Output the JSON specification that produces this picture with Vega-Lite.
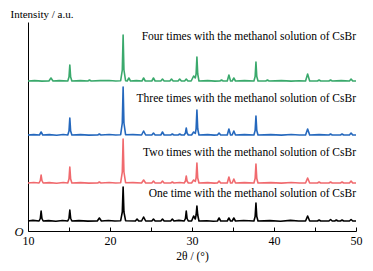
{
  "$schema": "https://vega.github.io/schema/vega-lite/v6.json",
  "width": 328,
  "height": 209,
  "autosize": {"type": "none"},
  "padding": {"left": 28, "top": 22, "right": 17, "bottom": 40},
  "background": "white",
  "config": {
    "view": {"stroke": null},
    "font": "Liberation Serif",
    "axis": {"grid": false, "domainColor": "#000", "domainWidth": 1, "tickColor": "#000", "labelColor": "#000", "titleColor": "#000", "labelFont": "Liberation Serif", "titleFont": "Liberation Serif", "labelFontSize": 12, "titleFontSize": 11.5, "titleFontWeight": "normal"}
  },
  "datasets": {
    "xrd": [
      {"s":"One","t":10.0,"i":10},{"s":"One","t":10.6,"i":10.6},{"s":"One","t":11.35,"i":10},{"s":"One","t":11.5,"i":12.5},{"s":"One","t":11.6,"i":20},{"s":"One","t":11.7,"i":12.5},{"s":"One","t":11.85,"i":10},
      {"s":"One","t":12.5,"i":10.4},{"s":"One","t":13.4,"i":9.8},{"s":"One","t":14.2,"i":10.5},{"s":"One","t":14.85,"i":10},{"s":"One","t":15.0,"i":12.8},{"s":"One","t":15.1,"i":21},{"s":"One","t":15.2,"i":12.8},{"s":"One","t":15.35,"i":10},
      {"s":"One","t":16.2,"i":10.4},{"s":"One","t":17.3,"i":9.9},{"s":"One","t":18.45,"i":10},{"s":"One","t":18.7,"i":13},{"s":"One","t":18.95,"i":10},{"s":"One","t":19.8,"i":10.5},{"s":"One","t":20.6,"i":10},
      {"s":"One","t":21.3,"i":10.3},{"s":"One","t":21.5,"i":19},{"s":"One","t":21.6,"i":44},{"s":"One","t":21.7,"i":19},{"s":"One","t":21.9,"i":10.3},
      {"s":"One","t":23.1,"i":10},{"s":"One","t":23.3,"i":12},{"s":"One","t":23.5,"i":10},{"s":"One","t":23.85,"i":10},{"s":"One","t":24.1,"i":14},{"s":"One","t":24.35,"i":10},
      {"s":"One","t":25.1,"i":10},{"s":"One","t":25.3,"i":12},{"s":"One","t":25.5,"i":10},{"s":"One","t":26.2,"i":10},{"s":"One","t":26.4,"i":12},{"s":"One","t":26.6,"i":10},{"s":"One","t":27.4,"i":10},{"s":"One","t":27.6,"i":12},{"s":"One","t":27.8,"i":10},
      {"s":"One","t":28.4,"i":10.6},{"s":"One","t":29.05,"i":10},{"s":"One","t":29.2,"i":12.5},{"s":"One","t":29.3,"i":20},{"s":"One","t":29.4,"i":12.5},{"s":"One","t":29.55,"i":10},
      {"s":"One","t":29.95,"i":10},{"s":"One","t":30.2,"i":15},{"s":"One","t":30.4,"i":12},{"s":"One","t":30.5,"i":16},{"s":"One","t":30.6,"i":25},{"s":"One","t":30.7,"i":16},{"s":"One","t":30.85,"i":10},
      {"s":"One","t":31.8,"i":10.3},{"s":"One","t":32.6,"i":9.8},{"s":"One","t":33.1,"i":10},{"s":"One","t":33.3,"i":13},{"s":"One","t":33.5,"i":10},{"s":"One","t":34.3,"i":10},{"s":"One","t":34.5,"i":13},{"s":"One","t":34.7,"i":10},{"s":"One","t":34.9,"i":10},{"s":"One","t":35.1,"i":13},{"s":"One","t":35.3,"i":10},
      {"s":"One","t":36.3,"i":10.5},{"s":"One","t":37.55,"i":10},{"s":"One","t":37.7,"i":14.5},{"s":"One","t":37.8,"i":28},{"s":"One","t":37.9,"i":14.5},{"s":"One","t":38.05,"i":10},
      {"s":"One","t":39.5,"i":10.4},{"s":"One","t":40.8,"i":9.8},{"s":"One","t":42.0,"i":10.6},{"s":"One","t":43.0,"i":10},{"s":"One","t":43.85,"i":10},{"s":"One","t":44.1,"i":15},{"s":"One","t":44.35,"i":10},
      {"s":"One","t":45.3,"i":10},{"s":"One","t":45.5,"i":11},{"s":"One","t":45.7,"i":10},{"s":"One","t":46.7,"i":10},{"s":"One","t":46.9,"i":11.5},{"s":"One","t":47.1,"i":10},{"s":"One","t":47.4,"i":10},{"s":"One","t":47.6,"i":11},{"s":"One","t":47.8,"i":10},
      {"s":"One","t":48.1,"i":10},{"s":"One","t":48.3,"i":11},{"s":"One","t":48.5,"i":10},{"s":"One","t":49.2,"i":10},{"s":"One","t":49.4,"i":11.5},{"s":"One","t":49.6,"i":10},{"s":"One","t":50.0,"i":10},

      {"s":"Two","t":10.0,"i":48},{"s":"Two","t":10.7,"i":48.5},{"s":"Two","t":11.35,"i":48},{"s":"Two","t":11.5,"i":50.5},{"s":"Two","t":11.6,"i":56},{"s":"Two","t":11.7,"i":50.5},{"s":"Two","t":11.85,"i":48},
      {"s":"Two","t":12.6,"i":48.4},{"s":"Two","t":13.5,"i":47.8},{"s":"Two","t":14.3,"i":48.5},{"s":"Two","t":14.85,"i":48},{"s":"Two","t":15.0,"i":52},{"s":"Two","t":15.1,"i":64},{"s":"Two","t":15.2,"i":52},{"s":"Two","t":15.35,"i":48},
      {"s":"Two","t":16.4,"i":48.4},{"s":"Two","t":17.4,"i":47.9},{"s":"Two","t":18.5,"i":48},{"s":"Two","t":18.7,"i":49},{"s":"Two","t":18.9,"i":48},{"s":"Two","t":19.9,"i":48.5},{"s":"Two","t":20.7,"i":48},
      {"s":"Two","t":21.3,"i":48.3},{"s":"Two","t":21.5,"i":59},{"s":"Two","t":21.6,"i":92},{"s":"Two","t":21.7,"i":59},{"s":"Two","t":21.9,"i":48.3},
      {"s":"Two","t":22.8,"i":48.4},{"s":"Two","t":23.85,"i":48},{"s":"Two","t":24.1,"i":51},{"s":"Two","t":24.35,"i":48},
      {"s":"Two","t":25.1,"i":48},{"s":"Two","t":25.3,"i":50},{"s":"Two","t":25.5,"i":48},{"s":"Two","t":26.2,"i":48},{"s":"Two","t":26.4,"i":50},{"s":"Two","t":26.6,"i":48},{"s":"Two","t":27.4,"i":48},{"s":"Two","t":27.6,"i":49},{"s":"Two","t":27.8,"i":48},
      {"s":"Two","t":28.5,"i":48.5},{"s":"Two","t":29.05,"i":48},{"s":"Two","t":29.2,"i":50},{"s":"Two","t":29.3,"i":55},{"s":"Two","t":29.4,"i":50},{"s":"Two","t":29.55,"i":48},
      {"s":"Two","t":29.95,"i":48},{"s":"Two","t":30.2,"i":51},{"s":"Two","t":30.4,"i":49.5},{"s":"Two","t":30.5,"i":53},{"s":"Two","t":30.6,"i":68},{"s":"Two","t":30.7,"i":53},{"s":"Two","t":30.85,"i":48},
      {"s":"Two","t":31.9,"i":48.4},{"s":"Two","t":32.7,"i":47.9},{"s":"Two","t":33.1,"i":48},{"s":"Two","t":33.3,"i":50},{"s":"Two","t":33.5,"i":48},{"s":"Two","t":34.3,"i":48},{"s":"Two","t":34.5,"i":54},{"s":"Two","t":34.7,"i":48},{"s":"Two","t":34.9,"i":48},{"s":"Two","t":35.1,"i":52},{"s":"Two","t":35.3,"i":48},
      {"s":"Two","t":36.4,"i":48.4},{"s":"Two","t":37.55,"i":48},{"s":"Two","t":37.7,"i":52.5},{"s":"Two","t":37.8,"i":67},{"s":"Two","t":37.9,"i":52.5},{"s":"Two","t":38.05,"i":48},
      {"s":"Two","t":39.6,"i":48.4},{"s":"Two","t":40.9,"i":47.9},{"s":"Two","t":42.1,"i":48.5},{"s":"Two","t":43.1,"i":48},{"s":"Two","t":43.85,"i":48},{"s":"Two","t":44.1,"i":53},{"s":"Two","t":44.35,"i":48},
      {"s":"Two","t":45.3,"i":48},{"s":"Two","t":45.5,"i":49},{"s":"Two","t":45.7,"i":48},{"s":"Two","t":46.7,"i":48},{"s":"Two","t":46.9,"i":49},{"s":"Two","t":47.1,"i":48},{"s":"Two","t":48.1,"i":48},{"s":"Two","t":48.3,"i":49},{"s":"Two","t":48.5,"i":48},
      {"s":"Two","t":49.2,"i":48},{"s":"Two","t":49.4,"i":50},{"s":"Two","t":49.6,"i":48},{"s":"Two","t":50.0,"i":48},

      {"s":"Three","t":10.0,"i":96},{"s":"Three","t":10.7,"i":96.4},{"s":"Three","t":11.4,"i":96},{"s":"Three","t":11.6,"i":99},{"s":"Three","t":11.8,"i":96},
      {"s":"Three","t":12.6,"i":96.4},{"s":"Three","t":13.5,"i":95.8},{"s":"Three","t":14.3,"i":96.5},{"s":"Three","t":14.85,"i":96},{"s":"Three","t":15.0,"i":100},{"s":"Three","t":15.1,"i":113},{"s":"Three","t":15.2,"i":100},{"s":"Three","t":15.35,"i":96},
      {"s":"Three","t":16.4,"i":96.4},{"s":"Three","t":17.4,"i":95.9},{"s":"Three","t":18.5,"i":96},{"s":"Three","t":18.7,"i":97},{"s":"Three","t":18.9,"i":96},{"s":"Three","t":19.9,"i":96.5},{"s":"Three","t":20.7,"i":96},
      {"s":"Three","t":21.3,"i":96.3},{"s":"Three","t":21.5,"i":108},{"s":"Three","t":21.6,"i":144},{"s":"Three","t":21.7,"i":108},{"s":"Three","t":21.9,"i":96.3},
      {"s":"Three","t":22.8,"i":96.4},{"s":"Three","t":23.85,"i":96},{"s":"Three","t":24.1,"i":100},{"s":"Three","t":24.35,"i":96},
      {"s":"Three","t":25.1,"i":96},{"s":"Three","t":25.3,"i":98},{"s":"Three","t":25.5,"i":96},{"s":"Three","t":26.2,"i":96},{"s":"Three","t":26.4,"i":99},{"s":"Three","t":26.6,"i":96},{"s":"Three","t":27.4,"i":96},{"s":"Three","t":27.6,"i":97},{"s":"Three","t":27.8,"i":96},
      {"s":"Three","t":28.3,"i":96},{"s":"Three","t":28.5,"i":97},{"s":"Three","t":28.7,"i":96},{"s":"Three","t":29.05,"i":96},{"s":"Three","t":29.2,"i":98},{"s":"Three","t":29.3,"i":103},{"s":"Three","t":29.4,"i":98},{"s":"Three","t":29.55,"i":96},
      {"s":"Three","t":29.95,"i":96},{"s":"Three","t":30.2,"i":99},{"s":"Three","t":30.4,"i":97.5},{"s":"Three","t":30.5,"i":102},{"s":"Three","t":30.6,"i":121},{"s":"Three","t":30.7,"i":102},{"s":"Three","t":30.85,"i":96},
      {"s":"Three","t":31.9,"i":96.4},{"s":"Three","t":32.7,"i":95.9},{"s":"Three","t":33.1,"i":96},{"s":"Three","t":33.3,"i":98},{"s":"Three","t":33.5,"i":96},{"s":"Three","t":34.3,"i":96},{"s":"Three","t":34.5,"i":102},{"s":"Three","t":34.7,"i":96},{"s":"Three","t":34.9,"i":96},{"s":"Three","t":35.1,"i":100},{"s":"Three","t":35.3,"i":96},
      {"s":"Three","t":36.4,"i":96.4},{"s":"Three","t":37.55,"i":96},{"s":"Three","t":37.7,"i":100.5},{"s":"Three","t":37.8,"i":115},{"s":"Three","t":37.9,"i":100.5},{"s":"Three","t":38.05,"i":96},
      {"s":"Three","t":39.6,"i":96.4},{"s":"Three","t":40.9,"i":95.9},{"s":"Three","t":42.1,"i":96.5},{"s":"Three","t":43.1,"i":96},{"s":"Three","t":43.85,"i":96},{"s":"Three","t":44.1,"i":102},{"s":"Three","t":44.35,"i":96},
      {"s":"Three","t":45.5,"i":96.4},{"s":"Three","t":46.7,"i":96},{"s":"Three","t":46.9,"i":97},{"s":"Three","t":47.1,"i":96},{"s":"Three","t":48.1,"i":96},{"s":"Three","t":48.3,"i":97},{"s":"Three","t":48.5,"i":96},
      {"s":"Three","t":49.2,"i":96},{"s":"Three","t":49.4,"i":98},{"s":"Three","t":49.6,"i":96},{"s":"Three","t":50.0,"i":96},

      {"s":"Four","t":10.0,"i":150},{"s":"Four","t":10.8,"i":150.4},{"s":"Four","t":11.7,"i":149.9},{"s":"Four","t":12.55,"i":150},{"s":"Four","t":12.8,"i":153},{"s":"Four","t":13.05,"i":150},
      {"s":"Four","t":13.8,"i":150.4},{"s":"Four","t":14.85,"i":150},{"s":"Four","t":15.0,"i":154},{"s":"Four","t":15.1,"i":166},{"s":"Four","t":15.2,"i":154},{"s":"Four","t":15.35,"i":150},
      {"s":"Four","t":16.4,"i":150.4},{"s":"Four","t":17.3,"i":150},{"s":"Four","t":17.5,"i":151},{"s":"Four","t":17.7,"i":150},{"s":"Four","t":18.8,"i":150.4},{"s":"Four","t":19.9,"i":150.5},{"s":"Four","t":20.7,"i":150},
      {"s":"Four","t":21.3,"i":150.3},{"s":"Four","t":21.5,"i":161},{"s":"Four","t":21.6,"i":196},{"s":"Four","t":21.7,"i":161},{"s":"Four","t":21.9,"i":150.3},
      {"s":"Four","t":22.1,"i":150},{"s":"Four","t":22.3,"i":153},{"s":"Four","t":22.5,"i":150},{"s":"Four","t":23.2,"i":150.4},{"s":"Four","t":23.9,"i":150},{"s":"Four","t":24.1,"i":153},{"s":"Four","t":24.3,"i":150},
      {"s":"Four","t":25.1,"i":150},{"s":"Four","t":25.3,"i":153},{"s":"Four","t":25.5,"i":150},{"s":"Four","t":26.2,"i":150},{"s":"Four","t":26.4,"i":152},{"s":"Four","t":26.6,"i":150},{"s":"Four","t":27.3,"i":150},{"s":"Four","t":27.5,"i":152},{"s":"Four","t":27.7,"i":150},
      {"s":"Four","t":28.3,"i":150},{"s":"Four","t":28.5,"i":152},{"s":"Four","t":28.7,"i":150},{"s":"Four","t":29.1,"i":150},{"s":"Four","t":29.3,"i":152},{"s":"Four","t":29.5,"i":150},
      {"s":"Four","t":29.9,"i":150},{"s":"Four","t":30.2,"i":155},{"s":"Four","t":30.4,"i":153},{"s":"Four","t":30.5,"i":157},{"s":"Four","t":30.6,"i":174},{"s":"Four","t":30.7,"i":157},{"s":"Four","t":30.85,"i":150},
      {"s":"Four","t":31.9,"i":150.4},{"s":"Four","t":32.8,"i":149.9},{"s":"Four","t":33.4,"i":150},{"s":"Four","t":33.6,"i":151},{"s":"Four","t":33.8,"i":150},{"s":"Four","t":34.3,"i":150},{"s":"Four","t":34.5,"i":156},{"s":"Four","t":34.7,"i":150},{"s":"Four","t":34.9,"i":150},{"s":"Four","t":35.1,"i":153},{"s":"Four","t":35.3,"i":150},
      {"s":"Four","t":36.4,"i":150.4},{"s":"Four","t":37.55,"i":150},{"s":"Four","t":37.7,"i":154.5},{"s":"Four","t":37.8,"i":169},{"s":"Four","t":37.9,"i":154.5},{"s":"Four","t":38.05,"i":150},
      {"s":"Four","t":39.0,"i":150},{"s":"Four","t":39.2,"i":151},{"s":"Four","t":39.4,"i":150},{"s":"Four","t":40.9,"i":150.4},{"s":"Four","t":42.1,"i":149.9},{"s":"Four","t":43.1,"i":150.3},{"s":"Four","t":43.85,"i":150},{"s":"Four","t":44.1,"i":157},{"s":"Four","t":44.35,"i":150},
      {"s":"Four","t":45.3,"i":150},{"s":"Four","t":45.5,"i":151},{"s":"Four","t":45.7,"i":150},{"s":"Four","t":46.7,"i":150},{"s":"Four","t":46.9,"i":151},{"s":"Four","t":47.1,"i":150},{"s":"Four","t":48.2,"i":150.4},
      {"s":"Four","t":49.2,"i":150},{"s":"Four","t":49.4,"i":152},{"s":"Four","t":49.6,"i":150},{"s":"Four","t":50.0,"i":150}
    ],
    "labels": [
      {"s":"One","label":"One time with the methanol solution of CsBr","t":50,"i":37},
      {"s":"Two","label":"Two times with the methanol solution of CsBr","t":50,"i":78},
      {"s":"Three","label":"Three times with the methanol solution of CsBr","t":50,"i":132},
      {"s":"Four","label":"Four times with the methanol solution of CsBr","t":50,"i":194}
    ]
  },
  "layer": [
    {
      "data": {"name": "xrd"},
      "mark": {"type": "line", "strokeWidth": 1.6, "interpolate": "linear", "strokeJoin": "round"},
      "encoding": {
        "x": {"field": "t", "type": "quantitative", "scale": {"domain": [10, 50], "nice": false},
              "axis": {"values": [10, 15, 20, 25, 30, 35, 40, 45, 50], "labelExpr": "datum.value % 10 == 0 ? datum.label : ''", "tickSize": -4, "labelPadding": 8, "title": "2θ / (°)", "titlePadding": 4, "labelFlush": false}},
        "y": {"field": "i", "type": "quantitative", "scale": {"domain": [0, 209], "nice": false},
              "axis": {"values": [0], "labelExpr": "'O'", "labelFontStyle": "italic", "labelFontSize": 12.5, "ticks": false, "labelPadding": 5,
                       "title": "Intensity / a.u.", "titleAngle": 0, "titleAlign": "left", "titleBaseline": "middle", "titleX": -18, "titleY": -8, "titleFontSize": 11}},
        "color": {"field": "s", "type": "nominal", "legend": null,
                  "scale": {"domain": ["One", "Two", "Three", "Four"], "range": ["#000000", "#f06a6e", "#2568bd", "#3aa96c"]}},
        "order": {"field": "t", "type": "quantitative"}
      }
    },
    {
      "data": {"name": "labels"},
      "mark": {"type": "text", "align": "right", "baseline": "middle", "font": "Liberation Serif", "fontSize": 11.5, "color": "#000"},
      "encoding": {
        "x": {"field": "t", "type": "quantitative"},
        "y": {"field": "i", "type": "quantitative"},
        "text": {"field": "label"}
      }
    },
    {
      "mark": {"type": "point", "shape": "triangle-up", "filled": true, "size": 22, "color": "#000", "opacity": 1},
      "encoding": {
        "x": {"datum": 10, "type": "quantitative"},
        "y": {"datum": 207, "type": "quantitative"}
      }
    }
  ]
}
